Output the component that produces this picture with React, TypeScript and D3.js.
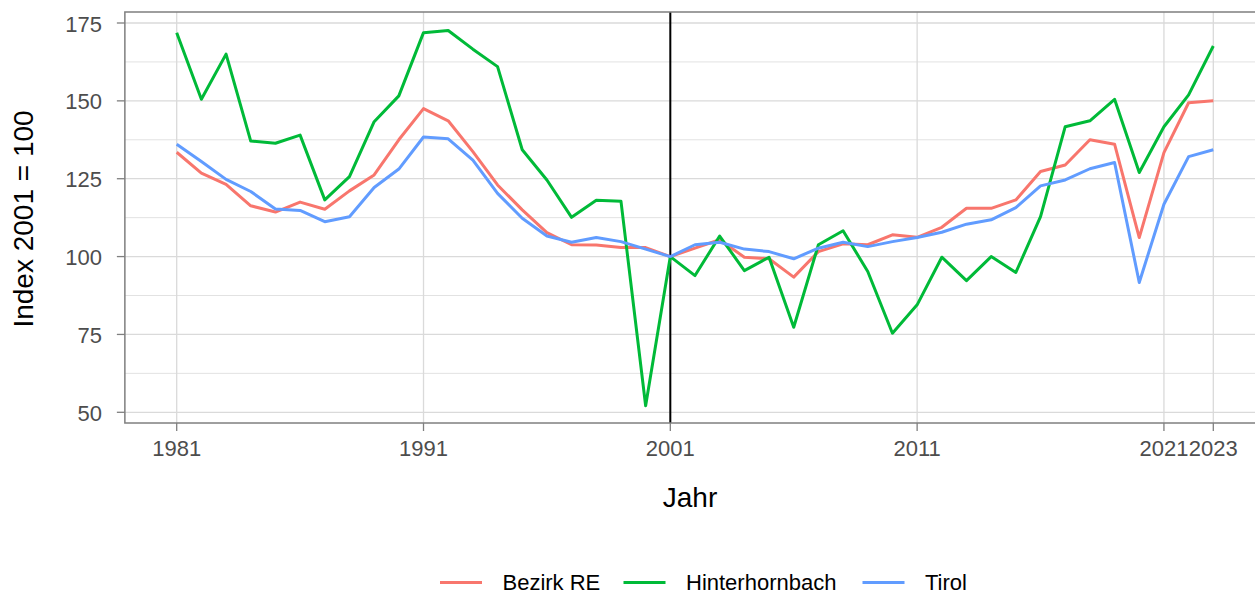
import React, { useEffect, useRef } from "react";
import * as d3 from "d3";

const years: number[] = d3.range(1981, 2024);

const bezirkRE: number[] = [
  133.5, 126.8, 123.2, 116.3, 114.3, 117.5, 115.2, 121.1, 126.2, 137.5,
  147.5, 143.6, 133.7, 123.0, 115.0, 107.7, 103.8, 103.7, 102.9, 102.9,
  100.0, 102.7, 105.4, 99.8, 99.3, 93.4, 101.6, 104.1, 103.8, 107.0,
  106.2, 109.4, 115.5, 115.5, 118.2, 127.3, 129.4, 137.5, 136.1, 106.1,
  133.4, 149.4, 150.0,
];

const hinterhornbach: number[] = [
  171.9, 150.5, 165.0, 137.1, 136.4, 139.0, 118.2, 125.7, 143.3, 151.6,
  171.9, 172.6, 166.6, 161.0, 134.3, 124.6, 112.6, 118.1, 117.8, 52.1,
  100.0, 93.9, 106.6, 95.5, 99.8, 77.3, 103.8, 108.3, 95.2, 75.4,
  84.5, 99.8, 92.3, 100.0, 94.9, 112.8, 141.7, 143.6, 150.5, 127.0,
  141.7, 151.9, 167.6,
];

const tirol: number[] = [
  136.1, 130.5, 124.8, 120.9, 115.3, 114.8, 111.2, 112.8, 122.2, 128.1,
  138.4, 137.8, 131.0, 120.3, 112.3, 106.6, 104.6, 106.1, 104.8, 102.4,
  100.0, 103.8, 104.6, 102.4, 101.6, 99.3, 102.7, 104.6, 103.2, 104.8,
  106.1, 107.8, 110.4, 111.8, 115.7, 122.7, 124.6, 128.2, 130.2, 91.7,
  116.8, 132.1, 134.3,
];

const seriesNames: string[] = ["Bezirk RE", "Hinterhornbach", "Tirol"];
const seriesColors: string[] = ["#F8766D", "#00BA38", "#619CFF"];
const seriesValues: number[][] = [bezirkRE, hinterhornbach, tirol];

const xTicks: number[] = [1981, 1991, 2001, 2011, 2021, 2023];
const yTicks: number[] = [50, 75, 100, 125, 150, 175];
const yMinor: number[] = [62.5, 87.5, 112.5, 137.5, 162.5];
const refYear = 2001;

const W = 1255;
const H = 595;
const FONT = "'Liberation Sans', Arial, sans-serif";

export default function App() {
  const ref = useRef<SVGSVGElement>(null);

  useEffect(() => {
    const svg = d3.select(ref.current);
    svg.selectAll("*").remove();

    const top = 12;
    const bottom = 423;
    const xMinD = 1981 - 0.05 * 42;
    const xMaxD = 2023 + 0.05 * 42;
    const x = d3.scaleLinear().domain([1981, 2023]).range([176.7, 1213.3]);
    const right = x(xMaxD);
    const panelLeft = x(xMinD);
    const y = d3.scaleLinear().domain([50, 175]).range([412.3, 23]);

    const g = svg.append("g");

    g.selectAll("line.ymin")
      .data(yMinor)
      .join("line")
      .attr("x1", panelLeft)
      .attr("x2", right)
      .attr("y1", (d) => y(d))
      .attr("y2", (d) => y(d))
      .attr("stroke", "#e2e2e2")
      .attr("stroke-width", 1);

    g.selectAll("line.ymaj")
      .data(yTicks)
      .join("line")
      .attr("x1", panelLeft)
      .attr("x2", right)
      .attr("y1", (d) => y(d))
      .attr("y2", (d) => y(d))
      .attr("stroke", "#dadada")
      .attr("stroke-width", 1.3);

    g.selectAll("line.xmaj")
      .data(xTicks)
      .join("line")
      .attr("x1", (d) => x(d))
      .attr("x2", (d) => x(d))
      .attr("y1", top)
      .attr("y2", bottom)
      .attr("stroke", "#dadada")
      .attr("stroke-width", 1.3);

    g.append("line")
      .attr("x1", x(refYear))
      .attr("x2", x(refYear))
      .attr("y1", top)
      .attr("y2", bottom)
      .attr("stroke", "#000")
      .attr("stroke-width", 2);

    const line = d3
      .line<number>()
      .x((_, i) => x(years[i]))
      .y((d) => y(d));

    seriesValues.forEach((vals, k) => {
      g.append("path")
        .datum(vals)
        .attr("d", line)
        .attr("fill", "none")
        .attr("stroke", seriesColors[k])
        .attr("stroke-width", 3)
        .attr("stroke-linejoin", "round");
    });

    g.append("rect")
      .attr("x", panelLeft)
      .attr("y", top)
      .attr("width", right - panelLeft)
      .attr("height", bottom - top)
      .attr("fill", "none")
      .attr("stroke", "#7f7f7f")
      .attr("stroke-width", 1.5);

    g.selectAll("line.yt")
      .data(yTicks)
      .join("line")
      .attr("x1", panelLeft - 8)
      .attr("x2", panelLeft)
      .attr("y1", (d) => y(d))
      .attr("y2", (d) => y(d))
      .attr("stroke", "#7f7f7f")
      .attr("stroke-width", 1.3);

    g.selectAll("text.yl")
      .data(yTicks)
      .join("text")
      .attr("x", 102)
      .attr("y", (d) => y(d) + 8.5)
      .attr("text-anchor", "end")
      .attr("font-family", FONT)
      .attr("font-size", 22)
      .attr("fill", "#4d4d4d")
      .text((d) => String(d));

    g.selectAll("line.xt")
      .data(xTicks)
      .join("line")
      .attr("x1", (d) => x(d))
      .attr("x2", (d) => x(d))
      .attr("y1", bottom)
      .attr("y2", bottom + 8)
      .attr("stroke", "#7f7f7f")
      .attr("stroke-width", 1.3);

    g.selectAll("text.xl")
      .data(xTicks)
      .join("text")
      .attr("x", (d) => x(d))
      .attr("y", 455.5)
      .attr("text-anchor", "middle")
      .attr("font-family", FONT)
      .attr("font-size", 22)
      .attr("fill", "#4d4d4d")
      .text((d) => String(d));

    g.append("text")
      .attr("x", (panelLeft + right) / 2 - 5)
      .attr("y", 506.5)
      .attr("text-anchor", "middle")
      .attr("font-family", FONT)
      .attr("font-size", 28)
      .attr("fill", "#000")
      .text("Jahr");

    g.append("text")
      .attr("transform", `translate(33,219) rotate(-90)`)
      .attr("text-anchor", "middle")
      .attr("font-family", FONT)
      .attr("font-size", 28)
      .attr("fill", "#000")
      .text("Index 2001 = 100");

    const legendKeyX = [440, 623.5, 862.5];
    seriesNames.forEach((name, k) => {
      g.append("line")
        .attr("x1", legendKeyX[k])
        .attr("x2", legendKeyX[k] + 42)
        .attr("y1", 582.5)
        .attr("y2", 582.5)
        .attr("stroke", seriesColors[k])
        .attr("stroke-width", 3);
      g.append("text")
        .attr("x", legendKeyX[k] + 62.5)
        .attr("y", 590)
        .attr("font-family", FONT)
        .attr("font-size", 22)
        .attr("fill", "#000")
        .text(name);
    });
  }, []);

  return (
    <svg
      ref={ref}
      width={W}
      height={H}
      style={{ position: "absolute", left: 0, top: 0, background: "#fff" }}
    />
  );
}
